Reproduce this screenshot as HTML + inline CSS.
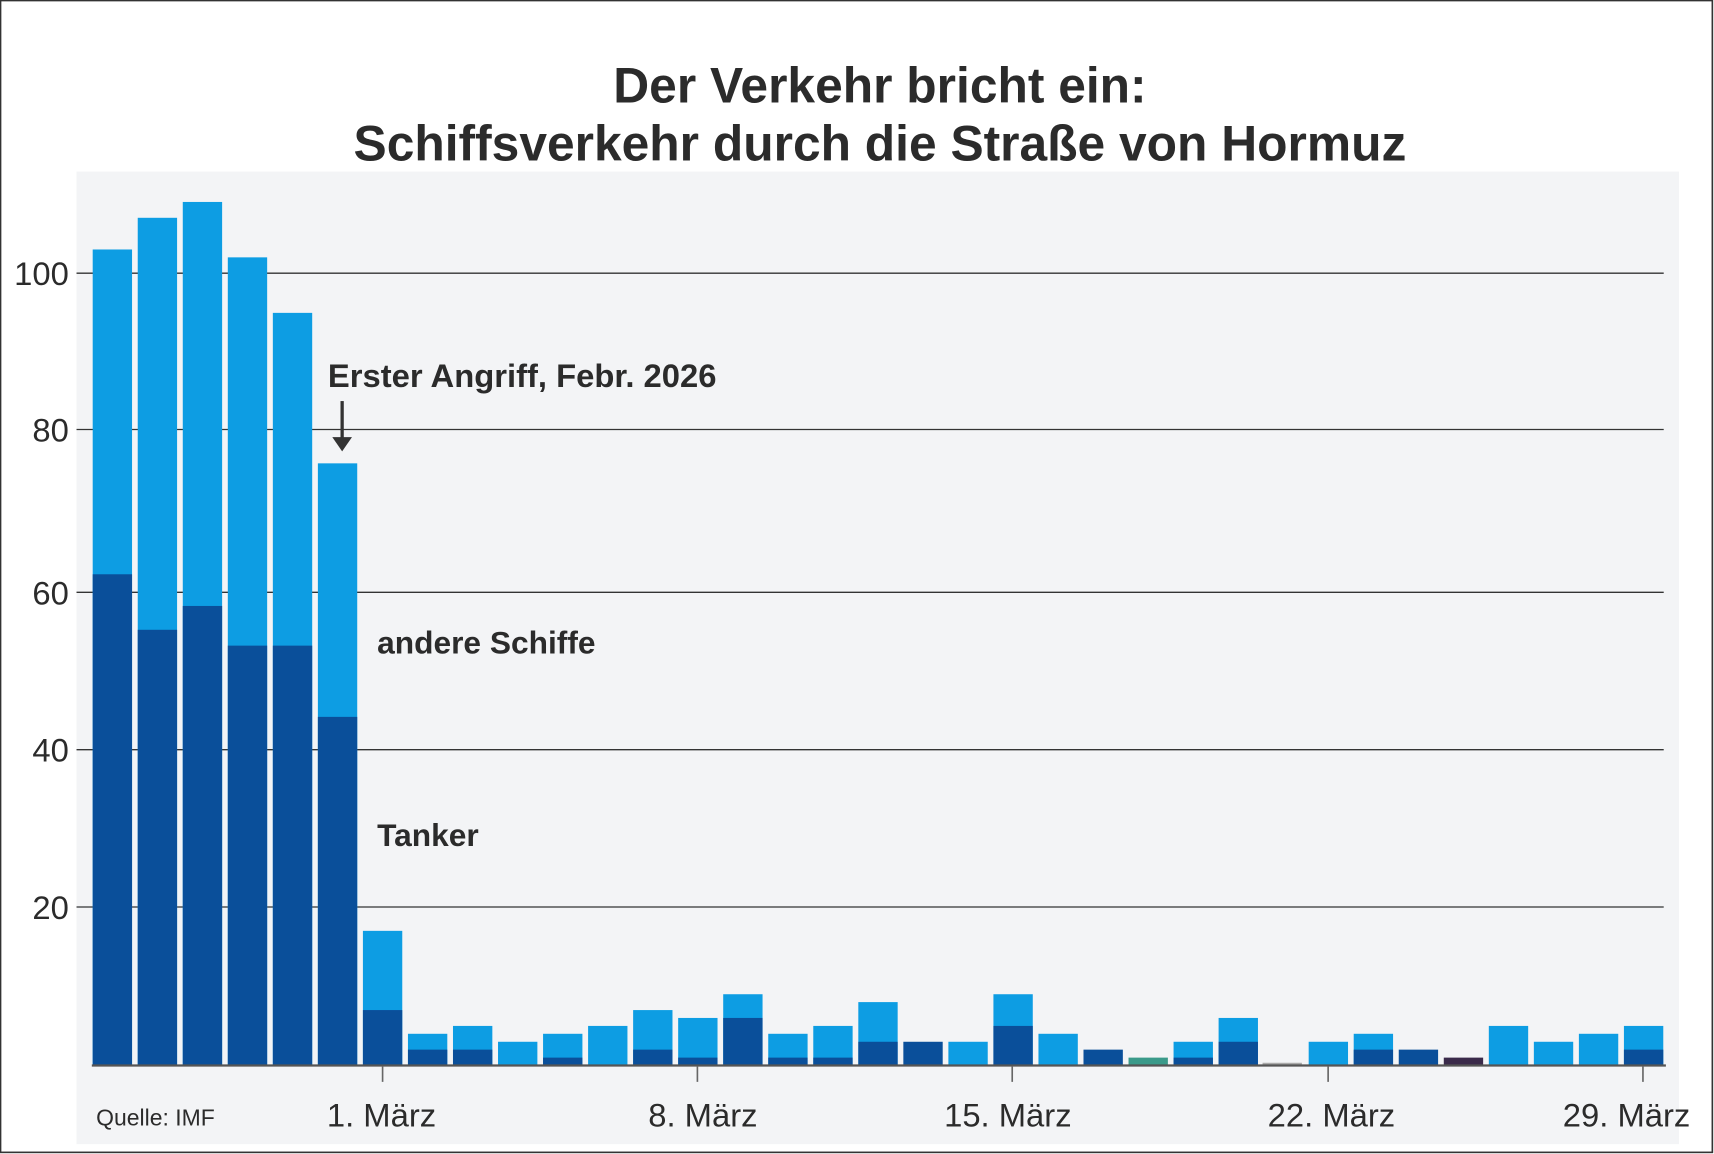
<!DOCTYPE html>
<html><head><meta charset="utf-8"><style>
html,body{margin:0;padding:0;background:#fff;}
svg{display:block;}
text{font-family:"Liberation Sans",sans-serif;}
</style></head><body>
<svg width="1714" height="1154" viewBox="0 0 1568 1056" preserveAspectRatio="none" xmlns="http://www.w3.org/2000/svg">
<rect x="0.5" y="0.5" width="1566" height="1054" fill="#fff" stroke="#333" stroke-width="1.5"/>
<rect x="70" y="157" width="1466" height="890" fill="#f3f4f6"/>
<text x="805" y="94" text-anchor="middle" font-size="45.5" font-weight="bold" fill="#2b2b2b">Der Verkehr bricht ein:</text>
<text x="805" y="147" text-anchor="middle" font-size="45.5" font-weight="bold" fill="#2b2b2b">Schiffsverkehr durch die Straße von Hormuz</text>
<g stroke="#333" stroke-width="1.2">
<line x1="70" x2="1522" y1="250" y2="250"/>
<line x1="70" x2="1522" y1="393" y2="393"/>
<line x1="70" x2="1522" y1="542" y2="542"/>
<line x1="70" x2="1522" y1="686" y2="686"/>
<line x1="70" x2="1522" y1="830" y2="830"/>
</g>
<g font-size="30" fill="#2b2b2b" text-anchor="end">
<text x="63" y="261">100</text>
<text x="63" y="404">80</text>
<text x="63" y="553">60</text>
<text x="63" y="697">40</text>
<text x="63" y="841">20</text>
</g>
<g fill="#0d9de3">
<rect x="84.8" y="228.3" width="36" height="746.7"/>
<rect x="126.0" y="199.3" width="36" height="775.7"/>
<rect x="167.2" y="184.8" width="36" height="790.2"/>
<rect x="208.4" y="235.5" width="36" height="739.5"/>
<rect x="249.6" y="286.3" width="36" height="688.7"/>
<rect x="290.8" y="424" width="36" height="551"/>
<rect x="332.0" y="851.8" width="36" height="123.2"/>
<rect x="373.2" y="946" width="36" height="29"/>
<rect x="414.4" y="938.8" width="36" height="36.2"/>
<rect x="455.6" y="953.3" width="36" height="21.7"/>
<rect x="496.8" y="946" width="36" height="29"/>
<rect x="538.0" y="938.8" width="36" height="36.2"/>
<rect x="579.2" y="924.3" width="36" height="50.7"/>
<rect x="620.4" y="931.5" width="36" height="43.5"/>
<rect x="661.6" y="909.8" width="36" height="65.2"/>
<rect x="702.8" y="946" width="36" height="29"/>
<rect x="744.0" y="938.8" width="36" height="36.2"/>
<rect x="785.2" y="917" width="36" height="58"/>
<rect x="867.6" y="953.3" width="36" height="21.7"/>
<rect x="908.8" y="909.8" width="36" height="65.2"/>
<rect x="950.0" y="946" width="36" height="29"/>
<rect x="1032.4" y="967.8" width="36" height="7.2" fill="#3a9a8a"/>
<rect x="1073.6" y="953.3" width="36" height="21.7"/>
<rect x="1114.8" y="931.5" width="36" height="43.5"/>
<rect x="1155.0" y="972.5" width="36" height="2.5" fill="#aaa"/>
<rect x="1197.2" y="953.3" width="36" height="21.7"/>
<rect x="1238.4" y="946" width="36" height="29"/>
<rect x="1362.0" y="938.8" width="36" height="36.2"/>
<rect x="1403.2" y="953.3" width="36" height="21.7"/>
<rect x="1444.4" y="946" width="36" height="29"/>
<rect x="1485.6" y="938.8" width="36" height="36.2"/>
</g>
<g fill="#0a4f9a">
<rect x="84.8" y="525.5" width="36" height="449.5"/>
<rect x="126.0" y="576.3" width="36" height="398.7"/>
<rect x="167.2" y="554.5" width="36" height="420.5"/>
<rect x="208.4" y="590.8" width="36" height="384.2"/>
<rect x="249.6" y="590.8" width="36" height="384.2"/>
<rect x="290.8" y="656" width="36" height="319"/>
<rect x="332.0" y="924.3" width="36" height="50.7"/>
<rect x="373.2" y="960.5" width="36" height="14.5"/>
<rect x="414.4" y="960.5" width="36" height="14.5"/>
<rect x="496.8" y="967.8" width="36" height="7.2"/>
<rect x="579.2" y="960.5" width="36" height="14.5"/>
<rect x="620.4" y="967.8" width="36" height="7.2"/>
<rect x="661.6" y="931.5" width="36" height="43.5"/>
<rect x="702.8" y="967.8" width="36" height="7.2"/>
<rect x="744.0" y="967.8" width="36" height="7.2"/>
<rect x="785.2" y="953.3" width="36" height="21.7"/>
<rect x="826.4" y="953.3" width="36" height="21.7"/>
<rect x="908.8" y="938.8" width="36" height="36.2"/>
<rect x="991.2" y="960.5" width="36" height="14.5"/>
<rect x="1073.6" y="967.8" width="36" height="7.2"/>
<rect x="1114.8" y="953.3" width="36" height="21.7"/>
<rect x="1238.4" y="960.5" width="36" height="14.5"/>
<rect x="1279.6" y="960.5" width="36" height="14.5"/>
<rect x="1320.8" y="967.8" width="36" height="7.2" fill="#3a2a4a"/>
<rect x="1485.6" y="960.5" width="36" height="14.5"/>
</g>
<line x1="84" x2="1524" y1="975" y2="975" stroke="#555" stroke-width="2"/>
<g stroke="#666" stroke-width="1.5">
<line x1="350" x2="350" y1="976" y2="990"/><line x1="638" x2="638" y1="976" y2="990"/>
<line x1="926" x2="926" y1="976" y2="990"/><line x1="1215" x2="1215" y1="976" y2="990"/>
<line x1="1503" x2="1503" y1="976" y2="990"/>
</g>
<g font-size="30" fill="#2b2b2b" text-anchor="middle">
<text x="349" y="1031">1. März</text>
<text x="643" y="1031">8. März</text>
<text x="922" y="1031">15. März</text>
<text x="1218" y="1031">22. März</text>
<text x="1488" y="1031">29. März</text>
</g>
<text x="88" y="1030" font-size="21" fill="#2b2b2b">Quelle: IMF</text>
<text x="300" y="354" font-size="30" font-weight="bold" fill="#2b2b2b">Erster Angriff, Febr. 2026</text>
<line x1="313" x2="313" y1="367" y2="402" stroke="#333" stroke-width="3"/>
<polygon points="304,400 322,400 313,413" fill="#333"/>
<text x="345" y="598" font-size="29" font-weight="bold" fill="#2b2b2b">andere Schiffe</text>
<text x="345" y="774" font-size="29" font-weight="bold" fill="#2b2b2b">Tanker</text>
</svg>
</body></html>
